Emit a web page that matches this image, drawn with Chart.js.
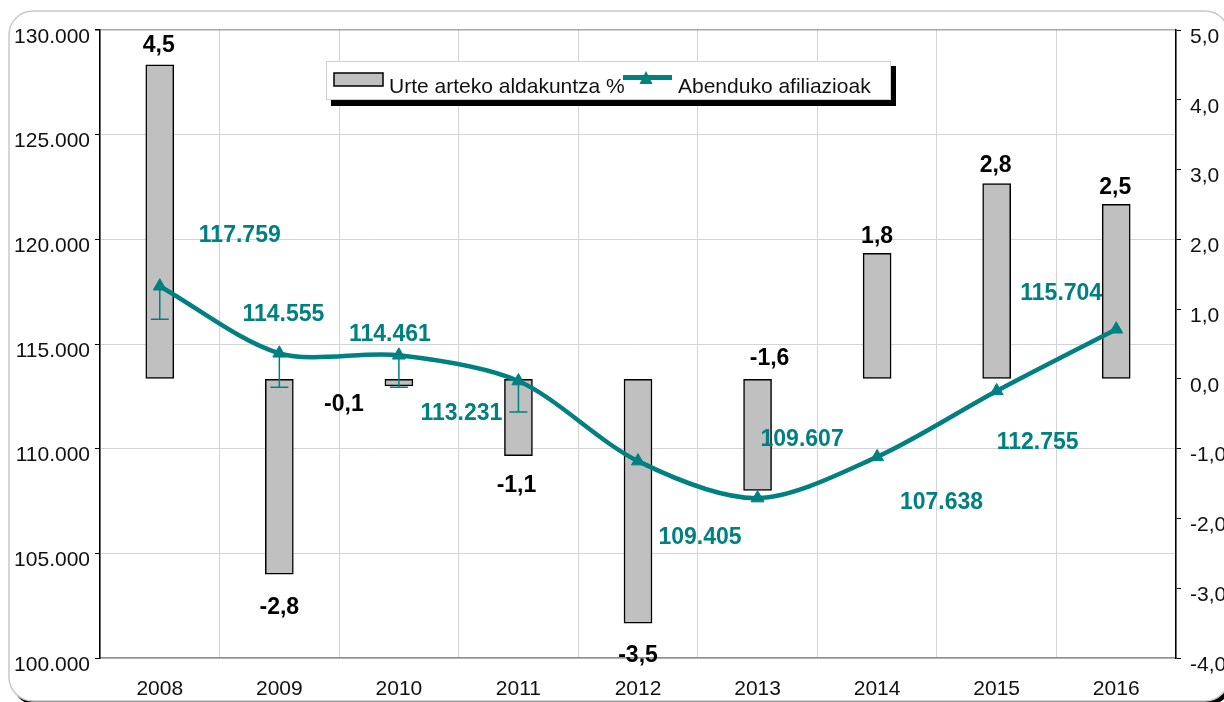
<!DOCTYPE html>
<html>
<head>
<meta charset="utf-8">
<script src="https://cdn.jsdelivr.net/npm/chart.js@4.4.0/dist/chart.umd.min.js"></script>
<style>
  html, body { margin: 0; padding: 0; background: #ffffff; }
  canvas { display: block; }
</style>
</head>
<body>
<canvas id="c" width="1224" height="702"></canvas>
<script>
// ---- data ----
const years = ['2008', '2009', '2010', '2011', '2012', '2013', '2014', '2015', '2016'];
const yoyChange = [4.5, -2.8, -0.1, -1.1, -3.5, -1.6, 1.8, 2.8, 2.5];          // Urte arteko aldakuntza %
const decAffiliations = [117759, 114555, 114461, 113231, 109405, 107638, 109607, 112755, 115704]; // Abenduko afiliazioak
const affErrMinus = [1580, 1620, 1530, 1480, null, null, null, null, null];
const leftTicks = [100000, 105000, 110000, 115000, 120000, 125000, 130000];
const rightTicks = [-4, -3, -2, -1, 0, 1, 2, 3, 4, 5];

// label placement (pixels, relative to mark)
const lineLabelOffsets = [[80, -51], [4, -39], [-9, -21], [-57, 33], [62, 77], [184, 5], [-75, -17], [41, 52], [-55, -36]];
const barLabelOffsets = [[-1, -19], [0, 33], [-55, 19], [-2, 30], [0, 33], [12, -132], [0, -17], [-1, -18], [-1, -17]];

const TEAL = '#008080';
const FONT = "'Liberation Sans', Arial, sans-serif";

const fmtThousands = v => String(Math.round(v)).replace(/\B(?=(\d{3})+(?!\d))/g, '.');
const fmtComma = v => v.toFixed(1).replace('.', ',');

function roundRect(ctx, x, y, w, h, r) {
  ctx.beginPath();
  ctx.moveTo(x + r, y);
  ctx.lineTo(x + w - r, y);
  ctx.arcTo(x + w, y, x + w, y + r, r);
  ctx.lineTo(x + w, y + h - r);
  ctx.arcTo(x + w, y + h, x + w - r, y + h, r);
  ctx.lineTo(x + r, y + h);
  ctx.arcTo(x, y + h, x, y + h - r, r);
  ctx.lineTo(x, y + r);
  ctx.arcTo(x, y, x + r, y, r);
  ctx.closePath();
}

const framePlugin = {
  id: 'frame',
  beforeDraw(chart) {
    const ctx = chart.ctx;
    ctx.save();
    ctx.fillStyle = '#ffffff';
    ctx.fillRect(0, 0, chart.width, chart.height);
    ctx.fillStyle = '#000000';
    roundRect(ctx, 12, 15, 1220, 690, 24);
    ctx.fill();
    ctx.fillStyle = '#ffffff';
    roundRect(ctx, 9, 11, 1220, 690, 24);
    ctx.fill();
    ctx.strokeStyle = '#c8c8c8';
    ctx.lineWidth = 1.5;
    ctx.stroke();
    ctx.restore();
  }
};

const errorBarPlugin = {
  id: 'errbars',
  beforeDatasetDraw(chart, args) {
    if (args.index !== 1) return;
    const ctx = chart.ctx;
    const meta = chart.getDatasetMeta(1);
    const ys = chart.scales.y;
    ctx.save();
    ctx.strokeStyle = TEAL;
    ctx.lineWidth = 1.5;
    meta.data.forEach((pt, i) => {
      const e = affErrMinus[i];
      if (e == null) return;
      const yEnd = ys.getPixelForValue(decAffiliations[i] - e);
      ctx.beginPath();
      ctx.moveTo(pt.x, pt.y);
      ctx.lineTo(pt.x, yEnd);
      ctx.moveTo(pt.x - 9, yEnd);
      ctx.lineTo(pt.x + 9, yEnd);
      ctx.stroke();
    });
    ctx.restore();
  }
};

const labelPlugin = {
  id: 'vlabels',
  afterDatasetsDraw(chart) {
    const ctx = chart.ctx;
    ctx.save();
    ctx.textAlign = 'center';
    ctx.textBaseline = 'middle';
    ctx.font = 'bold 23px ' + FONT;
    const barMeta = chart.getDatasetMeta(0);
    ctx.fillStyle = '#000000';
    barMeta.data.forEach((bar, i) => {
      const o = barLabelOffsets[i];
      ctx.fillText(fmtComma(yoyChange[i]), bar.x + o[0], bar.y + o[1]);
    });
    const lineMeta = chart.getDatasetMeta(1);
    ctx.fillStyle = TEAL;
    lineMeta.data.forEach((pt, i) => {
      const o = lineLabelOffsets[i];
      ctx.fillText(fmtThousands(decAffiliations[i]), pt.x + o[0], pt.y + o[1]);
    });
    ctx.restore();
  }
};

const legendPlugin = {
  id: 'customLegend',
  afterDraw(chart) {
    const ctx = chart.ctx;
    ctx.save();
    // shadow + box
    ctx.fillStyle = '#000000';
    ctx.fillRect(331, 66, 565, 40);
    ctx.fillStyle = '#ffffff';
    ctx.fillRect(326, 61, 565, 39);
    ctx.strokeStyle = '#d0d0d0';
    ctx.lineWidth = 1;
    ctx.strokeRect(326.5, 61.5, 564, 38);
    // bar swatch
    ctx.fillStyle = '#c0c0c0';
    ctx.fillRect(334, 73, 49, 13);
    ctx.strokeStyle = '#000000';
    ctx.lineWidth = 1.5;
    ctx.strokeRect(334, 73, 49, 13);
    // text
    ctx.fillStyle = '#111111';
    ctx.font = '21px ' + FONT;
    ctx.textAlign = 'left';
    ctx.textBaseline = 'middle';
    ctx.fillText(chart.data.datasets[0].label, 389, 87);
    // line swatch
    ctx.strokeStyle = TEAL;
    ctx.lineWidth = 5;
    ctx.beginPath();
    ctx.moveTo(623, 77.5);
    ctx.lineTo(672, 77.5);
    ctx.stroke();
    ctx.fillStyle = TEAL;
    ctx.beginPath();
    ctx.moveTo(646, 71);
    ctx.lineTo(652.5, 84);
    ctx.lineTo(639.5, 84);
    ctx.closePath();
    ctx.fill();
    ctx.fillStyle = '#111111';
    ctx.fillText(chart.data.datasets[1].label, 678, 87);
    ctx.restore();
  }
};

new Chart(document.getElementById('c'), {
  type: 'bar',
  data: {
    labels: years,
    datasets: [
      {
        type: 'bar',
        label: 'Urte arteko aldakuntza %',
        data: yoyChange,
        yAxisID: 'y1',
        backgroundColor: '#c0c0c0',
        borderColor: '#000000',
        borderWidth: 1.5,
        borderSkipped: false,
        barThickness: 28,
        order: 2
      },
      {
        type: 'line',
        label: 'Abenduko afiliazioak',
        data: decAffiliations,
        yAxisID: 'y',
        borderColor: TEAL,
        backgroundColor: TEAL,
        borderWidth: 4.5,
        tension: 0.3,
        pointStyle: 'triangle',
        pointRadius: 7.5,
        pointBackgroundColor: TEAL,
        pointBorderColor: TEAL,
        pointBorderWidth: 1,
        fill: false,
        order: 1
      }
    ]
  },
  options: {
    responsive: false,
    animation: false,
    devicePixelRatio: 1,
    layout: { padding: { top: 30, left: 0, right: 0, bottom: 0 } },
    plugins: {
      legend: { display: false },
      tooltip: { enabled: false }
    },
    scales: {
      x: {
        type: 'category',
        offset: true,
        grid: { offset: true, color: '#d4d4d4', lineWidth: 1, drawTicks: false },
        border: { color: '#909090', width: 1.5 },
        ticks: { color: '#111111', font: { family: FONT, size: 21 }, padding: 19, maxRotation: 0 },
        afterFit(s) { s.height = 44; }
      },
      y: {
        type: 'linear',
        position: 'left',
        min: 100000,
        max: 130000,
        afterBuildTicks(s) { s.ticks = leftTicks.map(v => ({ value: v })); },
        grid: {
          color: c => (c.tick && c.tick.value === 130000) ? '#a8a8a8' : '#d4d4d4',
          lineWidth: c => (c.tick && c.tick.value === 130000) ? 1.5 : 1,
          tickColor: '#000000',
          tickLength: 5
        },
        border: { color: '#000000', width: 1.5 },
        ticks: { color: '#111111', font: { family: FONT, size: 21 }, padding: 5, labelOffset: 7, callback: v => fmtThousands(v) },
        afterFit(s) { s.width = 100; }
      },
      y1: {
        type: 'linear',
        position: 'right',
        min: -4,
        max: 5,
        afterBuildTicks(s) { s.ticks = rightTicks.map(v => ({ value: v })); },
        grid: { drawOnChartArea: false, tickColor: '#000000', tickLength: 5 },
        border: { color: '#000000', width: 1.5 },
        ticks: { color: '#111111', font: { family: FONT, size: 21 }, padding: 9, labelOffset: 7, callback: v => fmtComma(v) },
        afterFit(s) { s.width = 48; }
      }
    }
  },
  plugins: [framePlugin, errorBarPlugin, labelPlugin, legendPlugin]
});
</script>
</body>
</html>
